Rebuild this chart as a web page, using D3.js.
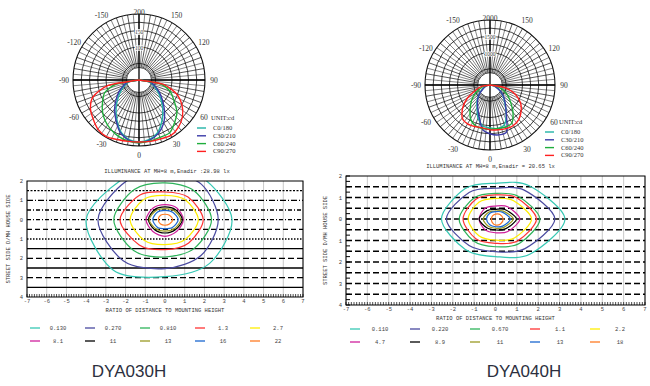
<!DOCTYPE html>
<meta charset="utf-8">
<style>
  body { margin: 0; background: #fff; }
  svg { display: block; }
  .mono { font-family: "Liberation Mono", "DejaVu Sans Mono", monospace; }
  .serif { font-family: "Liberation Serif", serif; }
</style>
<body>
<script src="https://cdn.jsdelivr.net/npm/d3@7/dist/d3.min.js"></script>
<script>
// ---------- polar (candela) data ----------
var gammas = [-90, -80, -70, -60, -50, -40, -30, -20, -10, 0, 10, 20, 30, 40, 50, 60, 70, 80, 90];
var polarNames = ["C0/180", "C30/210", "C60/240", "C90/270"];
var polarColors = ["#22b4a6", "#3a3aa8", "#1fae3c", "#ff2020"];
var angleLabels = [-150, -120, -90, -60, -30, 0, 30, 60, 90, 120, 150];

var leftMax = 200;
var leftRings = [50, 100, 125, 150, 175, 200];
var leftRingLabels = [100, 150];
var leftC0   = [0, 30, 45, 62, 82, 108, 135, 165, 183, 188, 183, 168, 140, 112, 85, 64, 46, 30, 0];
var leftC30  = [0, 35, 50, 70, 90, 115, 140, 168, 185, 190, 185, 172, 150, 120, 92, 70, 50, 35, 0];
var leftC60  = [0, 70, 110, 127, 145, 160, 172, 182, 188, 190, 188, 185, 185, 168, 150, 122, 100, 65, 0];
var leftC90  = [0, 95, 148, 170, 182, 194, 198, 192, 189, 188, 189, 190, 194, 186, 172, 150, 120, 75, 0];

var rightMax = 2000;
var rightRings = [500, 1000, 1250, 1500, 1750, 2000];
var rightRingLabels = [1000, 1500];
var rightC0  = [0, 80, 160, 280, 440, 620, 800, 1080, 1280, 1320, 1360, 1300, 1000, 700, 520, 350, 210, 100, 0];
var rightC30 = [0, 80, 160, 260, 420, 590, 760, 1000, 1380, 1500, 1560, 1520, 1000, 730, 540, 360, 210, 100, 0];
var rightC60 = [0, 160, 320, 520, 740, 950, 1200, 1330, 1360, 1360, 1360, 1380, 1350, 1100, 830, 620, 410, 200, 0];
var rightC90 = [0, 260, 470, 800, 1100, 1330, 1380, 1360, 1340, 1380, 1400, 1430, 1440, 1380, 1250, 1080, 820, 460, 0];

// ---------- isolux data ----------
// each contour: radius (in D/MH) towards E, NE, N, NW, W, SW, S, SE
var contourColors = ["#36c8b4", "#4a4aa0", "#2db35a", "#ff3333", "#ffee00",
                     "#d0209c", "#000000", "#9a9a22", "#1a66d0", "#ff7a22"];
var leftLevels  = ["0.130", "0.270", "0.810", "1.3", "2.7", "8.1", "11", "13", "16", "22"];
var rightLevels = ["0.110", "0.220", "0.670", "1.1", "2.2", "4.7", "8.9", "11", "13", "18"];
var leftContours = [
  [3.4, 2.9, 2.7, 3.0, 4.0, 3.7, 2.95, 3.2],
  [2.7, 2.6, 2.4, 2.8, 3.4, 3.0, 2.53, 2.6],
  [2.36, 2.1, 1.9, 2.2, 2.6, 2.25, 1.93, 2.1],
  [1.94, 1.65, 1.43, 1.8, 2.28, 1.85, 1.55, 1.7],
  [1.69, 1.45, 1.26, 1.5, 1.77, 1.5, 1.29, 1.45],
  [0.93, 0.85, 0.78, 0.85, 0.96, 0.87, 0.86, 0.85],
  [0.88, 0.74, 0.66, 0.74, 0.84, 0.74, 0.69, 0.74],
  [0.8, 0.66, 0.57, 0.66, 0.8, 0.66, 0.59, 0.66],
  [0.67, 0.55, 0.48, 0.55, 0.62, 0.55, 0.47, 0.55],
  [0.39, 0.32, 0.28, 0.32, 0.34, 0.32, 0.29, 0.32]
];
var rightContours = [
  [3.25, 2.2, 1.66, 2.0, 2.53, 2.0, 1.75, 2.3],
  [2.78, 1.9, 1.43, 1.75, 2.3, 1.75, 1.52, 1.95],
  [2.08, 1.5, 1.19, 1.4, 1.7, 1.45, 1.29, 1.6],
  [1.92, 1.4, 1.12, 1.3, 1.52, 1.3, 1.13, 1.45],
  [1.69, 1.2, 0.96, 1.1, 1.28, 1.1, 0.98, 1.25],
  [1.14, 0.8, 0.6, 0.7, 0.77, 0.7, 0.64, 0.82],
  [0.98, 0.62, 0.45, 0.55, 0.77, 0.58, 0.51, 0.65],
  [0.83, 0.52, 0.37, 0.45, 0.58, 0.48, 0.43, 0.55],
  [0.7, 0.45, 0.34, 0.38, 0.42, 0.38, 0.36, 0.47],
  [0.36, 0.3, 0.23, 0.2, 0.19, 0.22, 0.28, 0.33]
];
var roadLines = [1.5, 1, 0.5, 0, -0.5, -1, -1.5, -2, -2.5, -3, -3.5];
var xTicks = d3.range(-7, 8);
var yTicks = [2, 1, 0, -1, -2, -3, -4];

var svg = d3.select("body").append("svg").attr("width", 650).attr("height", 386);

function drawPolar(cx, cy, R, maxV, rings, ringLabels, series, legendX, legendY) {
  var g = svg.append("g").attr("transform", "translate(" + cx + "," + cy + ")");
  var r = d3.scaleLinear().domain([0, maxV]).range([0, R]);
  var hole = R * 0.19;
  var rad = function(a) { return a * Math.PI / 180; };

  // radial spokes every 5 degrees
  d3.range(0, 360, 5).forEach(function(a) {
    g.append("line")
      .attr("x1", hole * Math.sin(rad(a))).attr("y1", hole * Math.cos(rad(a)))
      .attr("x2", R * Math.sin(rad(a))).attr("y2", R * Math.cos(rad(a)))
      .attr("stroke", "#111").attr("stroke-width", a % 10 === 0 ? 0.7 : 0.5);
  });
  g.selectAll("circle.ring").data(rings).enter().append("circle")
    .attr("r", function(d) { return r(d); })
    .attr("fill", "none").attr("stroke", "#111")
    .attr("stroke-width", function(d, i) { return i === rings.length - 1 ? 1.1 : 0.8; });
  g.append("circle").attr("r", hole).attr("fill", "#fff").attr("stroke", "#111").attr("stroke-width", 0.8);
  g.append("line").attr("x1", -R).attr("x2", R).attr("stroke", "#000").attr("stroke-width", 1.3);
  g.append("line").attr("y1", -R).attr("y2", R).attr("stroke", "#000").attr("stroke-width", 1.3);

  // ring labels along the top axis
  ringLabels.forEach(function(v) {
    g.append("text").attr("class", "serif").attr("x", 0).attr("y", -r(v) + 3)
      .attr("text-anchor", "middle").attr("font-size", 5.5).attr("fill", "#333")
      .attr("stroke", "#fff").attr("stroke-width", 1.5).attr("paint-order", "stroke").text(v);
  });

  // angle labels
  g.selectAll("text.ang").data(angleLabels).enter().append("text")
    .attr("class", "serif")
    .attr("x", function(d) { return (R + 9) * Math.sin(rad(d)); })
    .attr("y", function(d) { return (R + 9) * Math.cos(rad(d)) + 2.5; })
    .attr("text-anchor", "middle").attr("font-size", 7.5).attr("fill", "#333")
    .text(function(d) { return d; });
  g.append("text").attr("class", "serif").attr("x", 0).attr("y", -R + 1)
    .attr("text-anchor", "middle").attr("font-size", 7.5).attr("fill", "#333").text(maxV);

  var line = d3.line()
    .x(function(d, i) { return r(d) * Math.sin(rad(gammas[i])); })
    .y(function(d, i) { return r(d) * Math.cos(rad(gammas[i])); })
    .curve(d3.curveCardinal.tension(0.3));
  series.forEach(function(s, i) {
    g.append("path").attr("d", line(s)).attr("fill", "none")
      .attr("stroke", polarColors[i]).attr("stroke-width", 1.4);
  });

  // legend
  var lg = svg.append("g").attr("class", "serif");
  lg.append("text").attr("x", legendX + 14).attr("y", legendY).attr("font-size", 6.5).attr("fill", "#333").text("UNIT:cd");
  polarNames.forEach(function(n, i) {
    var y = legendY + 8 + i * 7.8;
    lg.append("line").attr("x1", legendX).attr("x2", legendX + 9).attr("y1", y).attr("y2", y)
      .attr("stroke", polarColors[i]).attr("stroke-width", 1.4);
    lg.append("text").attr("x", legendX + 16).attr("y", y + 2).attr("font-size", 6.5).attr("fill", "#333").text(n);
  });
}

function drawIsolux(o) {
  var x = d3.scaleLinear().domain([-7, 7]).range([o.left, o.right]);
  var y = d3.scaleLinear().domain([2, -4]).range([o.top, o.bottom]);
  var g = svg.append("g").attr("class", "mono");
  var clipId = "clip" + o.id;
  svg.append("clipPath").attr("id", clipId).append("rect")
    .attr("x", o.left).attr("y", o.top).attr("width", o.right - o.left).attr("height", o.bottom - o.top);

  g.selectAll("line.vg").data(xTicks).enter().append("line")
    .attr("x1", x).attr("x2", x).attr("y1", o.top).attr("y2", o.bottom)
    .attr("stroke", "#c9c9c9").attr("stroke-width", 1);
  g.selectAll("line.road").data(roadLines).enter().append("line")
    .attr("x1", o.left).attr("x2", o.right)
    .attr("y1", function(d) { return y(d); }).attr("y2", function(d) { return y(d); })
    .attr("stroke", "#000").attr("stroke-width", 1.3)
    .attr("stroke-dasharray", function(d, i) { return o.dashes[i]; });

  // minor ticks along the bottom
  g.selectAll("line.mt").data(d3.range(-7, 7.001, 0.125)).enter().append("line")
    .attr("x1", x).attr("x2", x).attr("y1", o.bottom).attr("y2", o.bottom - 3)
    .attr("stroke", "#000").attr("stroke-width", 0.7);
  if (o.leftTicks) {
    g.selectAll("line.lt").data(d3.range(-4, 2.001, 0.25)).enter().append("line")
      .attr("x1", o.left).attr("x2", o.left + 4)
      .attr("y1", function(d) { return y(d); }).attr("y2", function(d) { return y(d); })
      .attr("stroke", "#000").attr("stroke-width", 1);
  }

  var cg = g.append("g").attr("clip-path", "url(#" + clipId + ")");
  var line = d3.line()
    .x(function(d) { return x(d[0]); }).y(function(d) { return y(d[1]); })
    .curve(d3.curveCardinalClosed.tension(0.1));
  o.contours.forEach(function(c, i) {
    var pts = c.map(function(rv, k) {
      var a = k * Math.PI / 4;
      return [rv * Math.cos(a), rv * Math.sin(a)];
    });
    cg.append("path").attr("d", line(pts)).attr("fill", "none")
      .attr("stroke", contourColors[i]).attr("stroke-width", 1.2);
  });

  g.append("rect").attr("x", o.left).attr("y", o.top)
    .attr("width", o.right - o.left).attr("height", o.bottom - o.top)
    .attr("fill", "none").attr("stroke", "#000").attr("stroke-width", 1);

  g.selectAll("text.xt").data(xTicks).enter().append("text")
    .attr("x", x).attr("y", o.bottom + 6).attr("text-anchor", "middle")
    .attr("font-size", 5.5).attr("fill", "#444").text(function(d) { return d; });
  g.selectAll("text.yt").data(yTicks).enter().append("text")
    .attr("x", o.left - 4).attr("y", function(d) { return y(d) + 2; }).attr("text-anchor", "end")
    .attr("font-size", 5.5).attr("fill", "#444").text(function(d) { return Math.abs(d); });

  g.append("text").attr("x", (o.left + o.right) / 2 + o.titleDx).attr("y", o.top - 8)
    .attr("text-anchor", "middle").attr("font-size", 5.5).attr("fill", "#333").text(o.title);
  g.append("text").attr("x", (o.left + o.right) / 2).attr("y", o.bottom + 15)
    .attr("text-anchor", "middle").attr("font-size", 5.5).attr("fill", "#333")
    .text("RATIO OF DISTANCE TO MOUNTING HEIGHT");
  g.append("text").attr("transform", "translate(" + o.ylabX + "," + (o.top + o.bottom) / 2 + ") rotate(-90)")
    .attr("text-anchor", "middle").attr("font-size", 5.5).attr("fill", "#333")
    .text("STREET SIDE  D/MH  HOUSE SIDE");

  // level legend
  o.levels.forEach(function(lv, i) {
    var col = i % 5, row = Math.floor(i / 5);
    var lx = o.legX + col * o.legStep, ly = o.legY + row * 13;
    g.append("line").attr("x1", lx).attr("x2", lx + 10).attr("y1", ly).attr("y2", ly)
      .attr("stroke", contourColors[i]).attr("stroke-width", 1.3);
    g.append("text").attr("x", lx + o.legText).attr("y", ly + 2).attr("text-anchor", "middle")
      .attr("font-size", 5.5).attr("fill", "#444").text(lv);
  });

  svg.append("text").attr("x", o.nameX).attr("y", 377).attr("text-anchor", "middle")
    .style("font-family", "'Liberation Sans', Arial, sans-serif").attr("font-size", 17)
    .attr("fill", "#2c2f3e").text(o.name);
}

drawPolar(139, 80, 66, leftMax, leftRings, leftRingLabels, [leftC0, leftC30, leftC60, leftC90], 197, 120);
drawPolar(490, 85, 65, rightMax, rightRings, rightRingLabels, [rightC0, rightC30, rightC60, rightC90], 545, 124);

drawIsolux({
  id: "L", left: 27, right: 303, top: 181, bottom: 297,
  contours: leftContours, levels: leftLevels,
  dashes: ["2,1.5", "6,2,1,2", "4,2,1,2", "4,2,1,2", "5,3", "1.5,1.5", "", "6,3", "", "6,3", ""],
  leftTicks: false, titleDx: 2,
  title: "ILLUMINANCE AT MH=8 m,Enadir :28.98 lx",
  ylabX: 10, legX: 30, legStep: 55, legY: 328, legText: 28,
  name: "DYA030H", nameX: 129
});
drawIsolux({
  id: "R", left: 346, right: 645, top: 176, bottom: 305,
  contours: rightContours, levels: rightLevels,
  dashes: ["6,3", "6,3", "6,3", "6,3", "6,3", "6,3", "6,3", "6,3", "6,3", "6,3", "6,3"],
  leftTicks: true, titleDx: -5,
  title: "ILLUMINANCE AT MH=8 m,Enadir = 20.65 lx",
  ylabX: 327, legX: 350, legStep: 60, legY: 329, legText: 30,
  name: "DYA040H", nameX: 524
});
</script>
</body>
